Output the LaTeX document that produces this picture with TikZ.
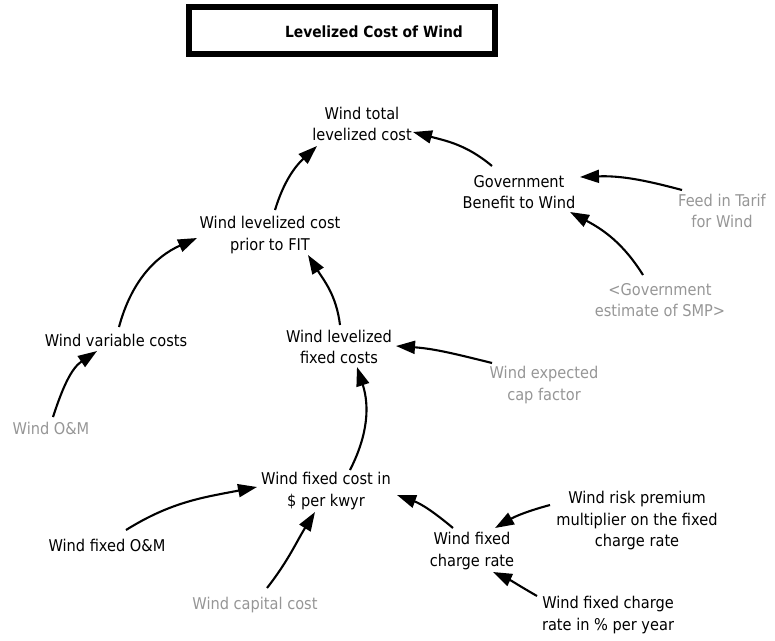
\documentclass[tikz,border=0pt]{standalone}
\usepackage{fontspec}
\setmainfont{DejaVu Sans Condensed}
\usetikzlibrary{arrows.meta,calc}
\definecolor{shadowvar}{RGB}{150,150,150}
\tikzset{
  var/.style={align=center, inner sep=2pt, font=\fontsize{16.2}{21.5}\selectfont, text=black},
  shadow var/.style={var, text=shadowvar},
  link/.style={line width=2.1pt, -{Triangle[length=19pt,width=13pt]}},
  titlebox/.style={draw, line width=6pt},
}
\begin{document}
\begin{tikzpicture}[x=1pt,y=1pt]
\useasboundingbox (0,0) rectangle (775,-640);

% title
\draw[titlebox] (189,-7) rectangle (495,-54);
\node[font=\fontsize{15.4}{17}\selectfont\bfseries] (title) at (374,-32) {Levelized Cost of Wind};

% variables
\node[var] (total)     at (362,-124) {Wind total\\levelized cost};
\node[var] (gov)       at (519,-192) {Government\\Benefit to Wind};
\node[shadow var] (feed) at (722,-211) {Feed in Tarif\\for Wind};
\node[shadow var] (smp)  at (660,-300) {<Government\\estimate of SMP>};
\node[var] (prior)     at (270,-235) {Wind levelized cost\\prior to FIT};
\node[var] (variable)  at (116,-340) {Wind variable costs};
\node[var] (levfixed)  at (339,-347) {Wind levelized\\fixed costs};
\node[shadow var] (cap)  at (544,-385) {Wind expected\\cap factor};
\node[shadow var] (om)   at (51,-428)  {Wind O\&M};
\node[var] (fixedcost) at (326,-491) {Wind fixed cost in\\\$ per kwyr};
\node[var] (fixedom)   at (107,-545) {Wind fixed O\&M};
\node[shadow var] (capital) at (255,-605) {Wind capital cost};
\node[var] (charge)    at (472,-551) {Wind fixed\\charge rate};
\node[var] (risk)      at (637,-521) {Wind risk premium\\multiplier on the fixed\\charge rate};
\node[var] (pct)       at (608,-615) {Wind fixed charge\\rate in \% per year};

% causal links
\draw[link] ($(prior)+(5,25)$)     to[out=73,in=223]  ($(total)+(-45,-22)$);
\draw[link] ($(gov)+(-27,26)$)     to[out=140,in=-15] ($(total)+(51,-8)$);
\draw[link] ($(feed)+(-40,21)$)    to[out=165,in=2]   ($(gov)+(61,15)$);
\draw[link] ($(smp)+(-17,25)$)     to[out=122,in=-28] ($(gov)+(51,-20)$);
\draw[link] ($(variable)+(3,13)$)  to[out=75,in=204]  ($(prior)+(-73,-3)$);
\draw[link] ($(levfixed)+(1,22)$)  to[out=97,in=-58]  ($(prior)+(38,-20)$);
\draw[link] ($(cap)+(-52,22)$)     to[out=166,in=-4]  ($(levfixed)+(57,1)$);
\draw[link] ($(om)+(2,11)$)        to[out=72,in=214]  ($(variable)+(-19,-11)$);
\draw[link] ($(fixedcost)+(24,21)$) to[out=63,in=-72] ($(levfixed)+(18,-20)$);
\draw[link] ($(fixedom)+(19,15)$)  to[out=32,in=191]  ($(fixedcost)+(-69,4)$);
\draw[link] ($(capital)+(12,17)$)  to[out=52,in=238]  ($(fixedcost)+(-11,-21)$);
\draw[link] ($(charge)+(-19,23)$)  to[out=140,in=-20] ($(fixedcost)+(71,-4)$);
\draw[link] ($(risk)+(-87,16)$)    to[out=195,in=30]  ($(charge)+(23,23)$);
\draw[link] ($(pct)+(-71,19)$)     to[out=150,in=-25] ($(charge)+(21,-21)$);
\end{tikzpicture}
\end{document}
